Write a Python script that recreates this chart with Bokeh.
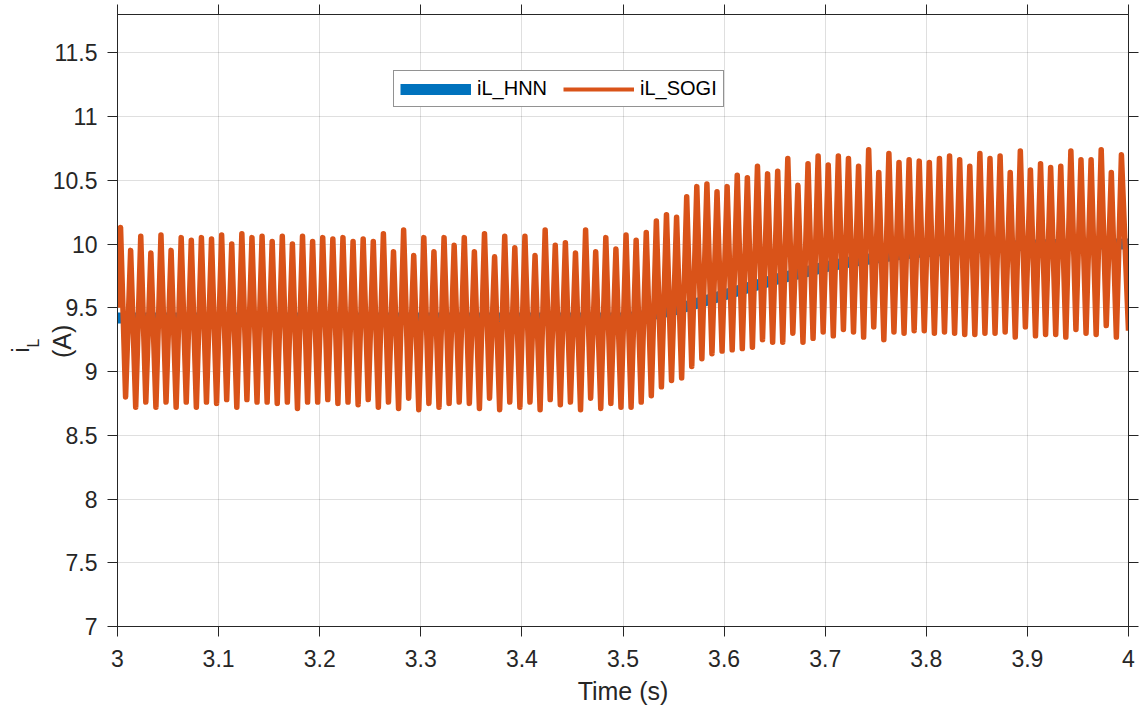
import numpy as np
from bokeh.plotting import figure
from bokeh.models import (Range1d, FixedTicker, LinearAxis, Legend, LegendItem, Label)
from bokeh.embed import file_html
from bokeh.resources import INLINE

# ---------------- data ----------------
# iL_SOGI: successive ripple maxima (one per 10 ms cycle) and minima
sogi_peaks = [
    10.13, 9.95, 10.06, 9.93, 10.07, 9.95, 10.05, 10.03, 10.05, 10.04,
    10.07, 10.00, 10.08, 10.05, 10.06, 10.02, 10.06, 10.00, 10.06, 10.02,
    10.05, 10.04, 10.05, 10.02, 10.04, 10.02, 10.08, 9.94, 10.11, 9.91,
    10.05, 9.94, 10.05, 9.99, 10.05, 9.94, 10.08, 9.90, 10.06, 9.97,
    10.06, 9.91, 10.11, 9.99, 10.01, 9.93, 10.11, 9.94, 10.05, 9.96,
    10.07, 10.03, 10.09, 10.18, 10.23, 10.21, 10.37, 10.45, 10.47, 10.41,
    10.45, 10.54, 10.52, 10.61, 10.55, 10.57, 10.67, 10.46, 10.63, 10.69,
    10.62, 10.69, 10.67, 10.61, 10.74, 10.56, 10.71, 10.64, 10.66, 10.65,
    10.64, 10.67, 10.69, 10.66, 10.61, 10.71, 10.67, 10.69, 10.56, 10.73,
    10.58, 10.63, 10.60, 10.61, 10.73, 10.66, 10.66, 10.74, 10.56, 10.70,
]
sogi_troughs = [
    8.80, 8.72, 8.76, 8.72, 8.76, 8.72, 8.76, 8.72, 8.76, 8.75,
    8.78, 8.72, 8.78, 8.76, 8.76, 8.75, 8.76, 8.71, 8.76, 8.76,
    8.78, 8.75, 8.76, 8.74, 8.78, 8.72, 8.76, 8.71, 8.79, 8.70,
    8.75, 8.72, 8.75, 8.76, 8.75, 8.71, 8.79, 8.70, 8.76, 8.72,
    8.76, 8.70, 8.78, 8.74, 8.76, 8.70, 8.79, 8.71, 8.75, 8.72,
    8.72, 8.76, 8.81, 8.88, 8.93, 8.95, 9.04, 9.10, 9.14, 9.16,
    9.17, 9.18, 9.19, 9.25, 9.23, 9.23, 9.30, 9.23, 9.26, 9.31,
    9.28, 9.33, 9.31, 9.27, 9.35, 9.25, 9.31, 9.30, 9.32, 9.32,
    9.30, 9.31, 9.30, 9.29, 9.29, 9.30, 9.30, 9.31, 9.27, 9.35,
    9.28, 9.29, 9.29, 9.27, 9.33, 9.30, 9.29, 9.36, 9.27,
]
sogi_start = 9.50   # value at t = 3.0 s
sogi_end = 9.32     # value at t = 4.0 s

# iL_HNN: smooth estimate
hnn_time = [3.0, 3.1, 3.2, 3.3, 3.4, 3.5, 3.525, 3.55, 3.575, 3.6, 3.625,
            3.65, 3.675, 3.7, 3.725, 3.75, 3.775, 3.8, 3.85, 3.9, 3.95, 4.0]
hnn_current = [9.42, 9.42, 9.42, 9.42, 9.42, 9.42, 9.44, 9.48, 9.54, 9.60, 9.66,
               9.72, 9.77, 9.82, 9.86, 9.89, 9.92, 9.94, 9.97, 9.99, 10.0, 10.0]

x_ticks = [3.0, 3.1, 3.2, 3.3, 3.4, 3.5, 3.6, 3.7, 3.8, 3.9, 4.0]
x_tick_labels = ["3", "3.1", "3.2", "3.3", "3.4", "3.5", "3.6", "3.7", "3.8", "3.9", "4"]
y_ticks = [7.0, 7.5, 8.0, 8.5, 9.0, 9.5, 10.0, 10.5, 11.0, 11.5]
y_tick_labels = ["7", "7.5", "8", "8.5", "9", "9.5", "10", "10.5", "11", "11.5"]

# ---------------- build SOGI trace ----------------
peak_time = np.round(3.003 + 0.01 * np.arange(len(sogi_peaks)), 4)
trough_time = np.round(3.008 + 0.01 * np.arange(len(sogi_troughs)), 4)
t_sogi = [3.0]
v_sogi = [sogi_start]
for i in range(len(sogi_peaks)):
    t_sogi.append(float(peak_time[i])); v_sogi.append(sogi_peaks[i])
    if i < len(sogi_troughs):
        t_sogi.append(float(trough_time[i])); v_sogi.append(sogi_troughs[i])
t_sogi.append(4.0); v_sogi.append(sogi_end)

BLUE = "#0072BD"
ORANGE = "#D95319"
AX = "#262626"
FONT = "Liberation Sans"

p = figure(width=1140, height=713, x_range=Range1d(3, 4), y_range=Range1d(7, 11.8),
           output_backend="svg", toolbar_location=None,
           min_border_left=117, min_border_right=12, min_border_top=14, min_border_bottom=87)
p.background_fill_color = "white"
p.border_fill_color = "white"
p.outline_line_color = AX
p.outline_line_width = 1

r_hnn = p.line(hnn_time, hnn_current, line_color=BLUE, line_width=11, line_join="round")
r_sogi = p.line(t_sogi, v_sogi, line_color=ORANGE, line_width=5.5, line_join="round")
# legend swatch for SOGI is drawn thinner, as in the reference legend (no visible data)
r_sogi_key = p.line(np.array([3.5, 3.5]), np.array([np.nan, np.nan]),
                    line_color=ORANGE, line_width=4)

# bottom axis
xa = p.xaxis[0]
xa.ticker = FixedTicker(ticks=x_ticks)
xa.major_label_overrides = {t: l for t, l in zip(x_ticks, x_tick_labels)}
xa.axis_label = "Time (s)"
xa.axis_label_text_font = FONT
xa.axis_label_text_font_size = "25px"
xa.axis_label_text_font_style = "normal"
xa.axis_label_text_color = AX
xa.axis_label_standoff = 7
# left axis; its label "(A)" is pulled in towards the tick labels, as in the reference
ya = p.yaxis[0]
ya.ticker = FixedTicker(ticks=y_ticks)
ya.major_label_overrides = {t: l for t, l in zip(y_ticks, y_tick_labels)}
ya.axis_label = "(A)" + "\u00a0" * 6
ya.axis_label_text_font = FONT
ya.axis_label_text_font_size = "25px"
ya.axis_label_text_font_style = "normal"
ya.axis_label_text_color = AX
ya.axis_label_standoff = -26
for ax in (xa, ya):
    ax.major_label_text_font = FONT
    ax.major_label_text_font_size = "23px"
    ax.major_label_text_color = AX
    ax.axis_line_color = AX
    ax.major_tick_line_color = AX
    ax.major_tick_out = 10
    ax.major_tick_in = 0
    ax.minor_tick_out = 0
    ax.minor_tick_in = 0
xa.major_label_standoff = 13
ya.major_label_standoff = 10

# right and top box axes (ticks only, labels not drawn)
ra = LinearAxis(ticker=FixedTicker(ticks=y_ticks), major_label_text_font_size="1px",
                major_label_text_color=None,
                major_tick_out=10, major_tick_in=0, minor_tick_out=0, minor_tick_in=0,
                axis_line_color=AX, major_tick_line_color=AX, major_label_standoff=0)
ta = LinearAxis(ticker=FixedTicker(ticks=x_ticks), major_label_text_font_size="1px",
                major_label_text_color=None,
                major_tick_out=10, major_tick_in=0, minor_tick_out=0, minor_tick_in=0,
                axis_line_color=AX, major_tick_line_color=AX, major_label_standoff=0)
p.add_layout(ra, "right")
p.add_layout(ta, "above")

p.xgrid.ticker = FixedTicker(ticks=x_ticks)
p.ygrid.ticker = FixedTicker(ticks=y_ticks)
for g in (p.xgrid[0], p.ygrid[0]):
    g.grid_line_color = AX
    g.grid_line_alpha = 0.15
    g.grid_line_width = 1

# first line of the y label: "i" with subscript "L" (rotated)
ang = np.pi / 2
p.add_layout(Label(x=2.905, y=9.149, text="i", angle=ang, text_font=FONT,
                   text_font_size="23px", text_color=AX, text_align="left",
                   text_baseline="alphabetic"), "left")
p.add_layout(Label(x=2.917, y=9.188, text="L", angle=ang, text_font=FONT,
                   text_font_size="16px", text_color=AX, text_align="left",
                   text_baseline="alphabetic"), "left")

legend = Legend(items=[LegendItem(label="iL_HNN", renderers=[r_hnn]),
                       LegendItem(label="iL_SOGI", renderers=[r_sogi_key])],
                location=(276, 519), orientation="horizontal",
                glyph_width=71, glyph_height=20, label_height=20, label_standoff=6,
                spacing=16, padding=6, margin=0,
                border_line_color=AX, border_line_width=1, background_fill_color="white",
                background_fill_alpha=1.0,
                label_text_font=FONT, label_text_font_size="20px", label_text_color="black")
p.add_layout(legend)

open("out.html", "w").write(file_html(p, INLINE))
